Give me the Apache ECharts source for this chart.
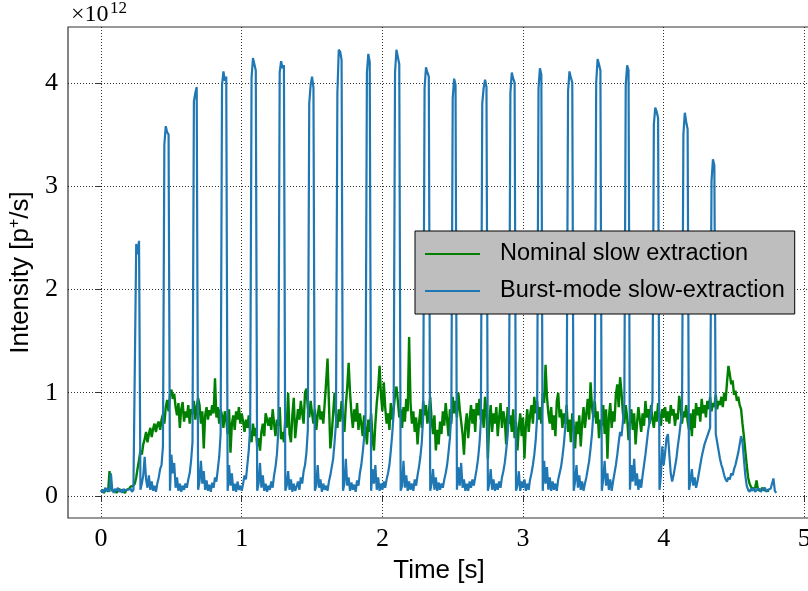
<!DOCTYPE html>
<html><head><meta charset="utf-8">
<script src="https://cdn.jsdelivr.net/npm/echarts@6/dist/echarts.min.js"></script>
<style>html,body{margin:0;padding:0;background:#fff}#c{width:808px;height:591px}</style>
</head><body><div id="c"></div>
<script>
// sampling interval of both traces [s]
const T_STEP = 0.01;
const SERIES_NAMES = ['Nominal slow extraction', 'Burst-mode slow-extraction'];
const X_TICKS = [0, 1, 2, 3, 4, 5];
const Y_TICKS = [0, 1, 2, 3, 4];
const X_RANGE = [-0.235, 5.04];
const Y_RANGE = [-0.213, 4.54];
const X_LABEL = 'Time [s]';
const Y_LABEL = 'Intensity [p{sup|+}/s]';

// Nominal slow extraction, intensity in 1e12 p+/s, t = 0.00 ... 4.75 s
const NOMINAL = [
0.04,0.06,0.03,0.05,0.07,0.04,0.24,0.08,0.05,0.04,0.06,0.03,0.05,0.07,0.04,0.06,0.05,0.03,0.06,0.05,
0.07,0.09,0.08,0.10,0.12,0.18,0.27,0.35,0.44,0.40,0.50,0.55,0.62,0.52,0.60,0.66,0.57,0.65,0.70,0.62,
0.69,0.72,0.64,0.74,0.79,0.70,0.86,0.93,0.82,0.98,1.03,0.94,0.99,0.86,0.78,0.90,0.66,0.84,0.91,0.72,
0.82,0.76,0.88,0.70,0.84,0.79,0.92,0.74,0.86,0.95,0.88,0.70,0.82,0.46,0.78,0.86,0.74,0.83,0.78,0.88,
0.80,1.14,0.76,0.86,0.70,0.84,0.78,0.66,0.82,0.74,0.60,0.84,0.42,0.70,0.78,0.64,0.82,0.74,0.86,0.70,
0.80,0.72,0.62,0.74,0.66,0.78,0.60,0.52,0.70,0.58,0.66,0.48,0.56,0.44,0.62,0.70,0.58,0.80,0.74,0.68,
0.76,0.64,0.84,0.70,0.58,0.74,0.68,0.86,0.55,0.62,0.52,0.76,0.66,1.00,0.60,0.52,0.78,0.95,0.56,0.70,
0.84,0.74,0.92,0.80,0.70,1.00,1.04,0.86,0.76,0.92,0.80,0.70,0.84,0.64,0.78,0.88,0.74,0.82,0.70,0.90,
1.10,1.33,0.90,0.46,0.60,0.80,1.00,0.78,0.66,0.84,0.72,0.92,0.76,0.62,0.88,1.05,1.29,1.00,0.80,0.66,
0.84,0.72,0.90,0.64,0.80,0.70,0.58,0.78,0.66,0.50,0.74,0.62,0.80,0.56,0.44,0.70,0.90,1.04,1.26,0.98,
0.82,1.10,0.86,0.70,0.80,0.64,0.90,0.74,0.84,0.98,1.06,0.92,0.76,0.84,0.66,0.86,0.72,0.94,0.82,1.54,
0.90,0.70,0.82,0.62,0.76,0.50,0.70,0.84,0.66,0.92,0.78,0.88,0.70,0.80,0.96,0.74,0.60,0.78,0.44,0.64,
0.50,0.72,0.60,0.82,0.68,0.90,0.74,0.58,0.84,0.70,0.96,0.80,0.92,0.76,1.00,0.84,0.72,0.60,0.40,0.68,
0.80,0.56,0.74,0.88,0.70,0.84,0.62,0.90,0.78,0.94,0.74,0.84,0.66,0.96,0.82,0.36,0.72,0.88,0.62,0.80,
0.70,0.86,0.58,0.76,0.90,0.66,0.82,0.74,0.50,0.86,0.70,0.78,0.62,0.84,0.56,0.72,0.44,0.66,0.80,0.58,
0.76,0.36,0.68,0.84,0.62,0.78,0.88,0.70,0.96,0.80,0.92,0.74,0.86,0.70,1.00,0.90,1.27,0.96,0.80,0.70,
0.86,0.64,0.78,0.58,0.92,1.00,0.76,0.84,0.66,0.80,0.70,0.88,0.62,0.74,0.52,0.80,0.68,0.46,0.72,0.60,
0.78,0.48,0.70,0.86,0.66,0.80,0.94,0.74,1.10,0.86,0.76,0.92,0.70,0.82,0.56,0.74,0.68,0.88,0.60,0.84,
0.36,0.76,0.90,0.66,0.82,0.72,0.98,1.08,0.86,1.15,1.00,0.80,0.70,0.88,0.76,0.54,0.72,0.84,0.64,0.80,
0.50,0.70,0.86,0.74,0.62,0.80,0.68,0.92,0.76,0.84,0.70,0.88,0.74,0.66,0.82,0.72,0.90,0.78,0.68,0.84,
0.76,0.86,0.72,0.82,0.70,0.88,0.78,0.84,0.68,0.80,0.74,0.97,0.86,0.70,0.82,0.76,0.88,0.72,0.64,0.80,
0.58,0.84,0.66,0.90,0.78,0.86,0.72,0.94,0.80,0.88,0.76,0.92,0.84,0.96,0.82,0.90,0.86,0.98,0.84,0.92,
0.88,0.96,0.86,1.00,0.92,1.10,1.26,1.18,1.08,1.12,0.98,1.02,0.92,0.96,0.88,0.84,0.70,0.58,0.44,0.30,
0.18,0.12,0.09,0.07,0.06,0.08,0.15,0.06,0.07,0.05,0.08,0.06,0.07,0.05,0.06,0.05
];

// Burst-mode slow extraction, intensity in 1e12 p+/s, t = 0.00 ... 4.80 s
const BURST = [
0.04,0.06,0.03,0.08,0.05,0.07,0.04,0.22,0.06,0.03,0.07,0.05,0.08,0.04,0.06,0.03,0.07,0.05,0.04,0.06,
0.05,0.07,0.04,0.06,0.05,2.44,2.34,2.47,0.06,0.12,0.20,0.38,0.16,0.08,0.20,0.06,0.14,0.05,0.10,0.04,
0.12,0.18,0.26,0.30,0.48,3.40,3.58,3.52,3.50,0.05,0.40,0.22,0.32,0.08,0.18,0.05,0.12,0.04,0.10,0.06,
0.12,0.08,0.16,0.22,0.34,0.52,3.82,3.90,3.96,0.06,0.14,0.34,0.12,0.24,0.06,0.15,0.05,0.11,0.04,0.13,
0.08,0.18,0.14,0.26,0.38,0.60,3.98,4.11,4.02,4.06,0.05,0.30,0.10,0.22,0.05,0.12,0.04,0.14,0.06,0.10,
0.05,0.12,0.20,0.16,0.30,0.44,0.66,4.05,4.24,4.18,4.12,0.05,0.12,0.32,0.08,0.20,0.05,0.12,0.04,0.10,
0.06,0.14,0.08,0.20,0.28,0.40,0.62,4.10,4.21,4.14,4.17,0.05,0.10,0.24,0.06,0.16,0.04,0.12,0.05,0.09,
0.14,0.06,0.18,0.12,0.24,0.30,0.42,0.64,3.80,3.98,4.06,3.95,0.05,0.10,0.30,0.08,0.16,0.04,0.12,0.06,
0.10,0.05,0.14,0.20,0.28,0.36,0.52,0.70,3.90,4.32,4.30,4.22,0.05,0.12,0.36,0.10,0.18,0.05,0.13,0.06,
0.11,0.04,0.15,0.10,0.22,0.30,0.42,0.56,0.74,4.10,4.28,4.20,0.05,0.26,0.12,0.30,0.06,0.18,0.05,0.12,
0.06,0.14,0.08,0.16,0.22,0.30,0.44,0.60,0.80,4.10,4.32,4.25,4.18,0.05,0.10,0.34,0.08,0.20,0.05,0.14,
0.06,0.12,0.05,0.16,0.10,0.20,0.28,0.38,0.52,0.76,3.95,4.15,4.10,4.06,0.05,0.12,0.26,0.06,0.18,0.05,
0.13,0.06,0.12,0.08,0.16,0.22,0.30,0.42,0.56,0.78,3.85,4.04,3.98,0.06,0.28,0.10,0.32,0.08,0.16,0.05,
0.12,0.05,0.14,0.08,0.16,0.10,0.18,0.26,0.36,0.50,0.72,3.80,3.95,4.03,3.96,0.05,0.12,0.26,0.06,0.16,
0.05,0.12,0.06,0.14,0.08,0.18,0.24,0.32,0.44,0.58,0.80,3.90,4.10,4.04,4.00,0.05,0.10,0.24,0.05,0.14,
0.08,0.16,0.05,0.12,0.06,0.16,0.22,0.30,0.40,0.54,0.76,3.95,4.14,4.08,0.05,0.34,0.12,0.28,0.06,0.18,
0.05,0.14,0.06,0.12,0.05,0.16,0.22,0.28,0.38,0.50,0.66,0.86,3.92,4.11,4.05,4.00,0.05,0.14,0.30,0.08,
0.20,0.06,0.14,0.05,0.12,0.18,0.26,0.34,0.46,0.60,0.80,0.95,4.00,4.23,4.18,4.12,0.05,0.16,0.34,0.10,
0.22,0.06,0.16,0.05,0.14,0.22,0.30,0.40,0.52,0.62,0.58,0.72,0.90,3.98,4.17,4.12,0.06,0.30,0.14,0.36,
0.10,0.22,0.06,0.16,0.08,0.20,0.30,0.40,0.52,0.64,0.72,0.80,0.92,3.60,3.76,3.72,3.66,0.06,0.20,0.48,
0.30,0.42,0.56,0.60,0.40,0.22,0.14,0.20,0.28,0.36,0.48,0.58,0.70,0.78,3.50,3.71,3.62,3.55,0.06,0.14,
0.26,0.10,0.18,0.08,0.14,0.22,0.30,0.38,0.44,0.50,0.54,0.58,0.62,0.66,3.05,3.26,3.20,0.60,0.52,0.44,
0.36,0.30,0.26,0.20,0.16,0.14,0.18,0.16,0.22,0.20,0.26,0.30,0.36,0.42,0.50,0.58,0.52,0.36,0.20,0.10,
0.06,0.04,0.07,0.05,0.08,0.04,0.06,0.05,0.07,0.04,0.06,0.05,0.08,0.04,0.06,0.05,0.07,0.06,0.17,0.05,
0.03
];

function toPairs(values) {
  return values.map((v, i) => [Math.round(i * T_STEP * 1000) / 1000, v]);
}

const SANS = 'Liberation Sans';
const SERIF = 'Liberation Serif';
const INK = '#000';
const SPINE = '#333';

const chart = echarts.init(document.getElementById('c'), null, { renderer: 'canvas' });
chart.setOption({
  animation: false,
  backgroundColor: '#fff',
  grid: {
    left: 68, top: 27, width: 742, bottom: 73,
    outerBoundsMode: 'none', containLabel: false,
    show: true, borderColor: SPINE, borderWidth: 1.2, backgroundColor: 'transparent'
  },
  xAxis: {
    type: 'value', min: X_RANGE[0], max: X_RANGE[1],
    axisLine: { show: false },
    axisTick: { show: true, inside: false, length: 5, customValues: X_TICKS, lineStyle: { color: SPINE, width: 1 } },
    axisLabel: { customValues: X_TICKS, fontSize: 26, fontFamily: SERIF, color: INK, margin: 8, hideOverlap: false },
    splitLine: { show: true, lineStyle: { type: [1, 2], color: INK, width: 0.8 } },
    name: X_LABEL, nameLocation: 'middle', nameGap: 40,
    nameTextStyle: { fontSize: 26, fontFamily: SANS, color: INK }
  },
  yAxis: {
    type: 'value', min: Y_RANGE[0], max: Y_RANGE[1],
    axisLine: { show: false },
    axisTick: { show: true, inside: false, length: 5, customValues: Y_TICKS, lineStyle: { color: SPINE, width: 1 } },
    axisLabel: { customValues: Y_TICKS, fontSize: 26, fontFamily: SERIF, color: INK, margin: 10 },
    splitLine: { show: true, lineStyle: { type: [1, 2], color: INK, width: 0.8 } },
    name: Y_LABEL, nameLocation: 'middle', nameRotate: 90, nameGap: 22,
    nameTextStyle: {
      fontSize: 26, fontFamily: SANS, color: INK,
      rich: { sup: { fontSize: 16, fontFamily: SANS, color: INK, verticalAlign: 'top', lineHeight: 30 } }
    }
  },
  legend: {
    data: SERIES_NAMES.map(n => ({ name: n, icon: 'rect' })),
    orient: 'vertical', left: 415, top: 231,
    padding: [11, 10, 11, 10], itemGap: 13, itemWidth: 55, itemHeight: 2,
    backgroundColor: '#bebebe', borderColor: INK, borderWidth: 1, borderRadius: 0,
    selectedMode: false,
    textStyle: { fontSize: 23.5, fontFamily: SANS, color: INK, padding: [0, 0, 0, 15], lineHeight: 24 }
  },
  graphic: [
    { type: 'text', left: 71, top: 3, style: { text: '×10', font: '24px "Liberation Serif"', fill: INK } },
    { type: 'text', left: 110, top: 0, style: { text: '12', font: '17px "Liberation Serif"', fill: INK } }
  ],
  series: [
    {
      name: SERIES_NAMES[0], type: 'line', data: toPairs(NOMINAL),
      symbol: 'none', showSymbol: false, sampling: null, z: 2,
      color: '#008000', lineStyle: { color: '#008000', width: 2.4 }
    },
    {
      name: SERIES_NAMES[1], type: 'line', data: toPairs(BURST),
      symbol: 'none', showSymbol: false, sampling: null, z: 3,
      color: '#1f77b4', lineStyle: { color: '#1f77b4', width: 2.2 }
    }
  ]
});
</script>
</body></html>
